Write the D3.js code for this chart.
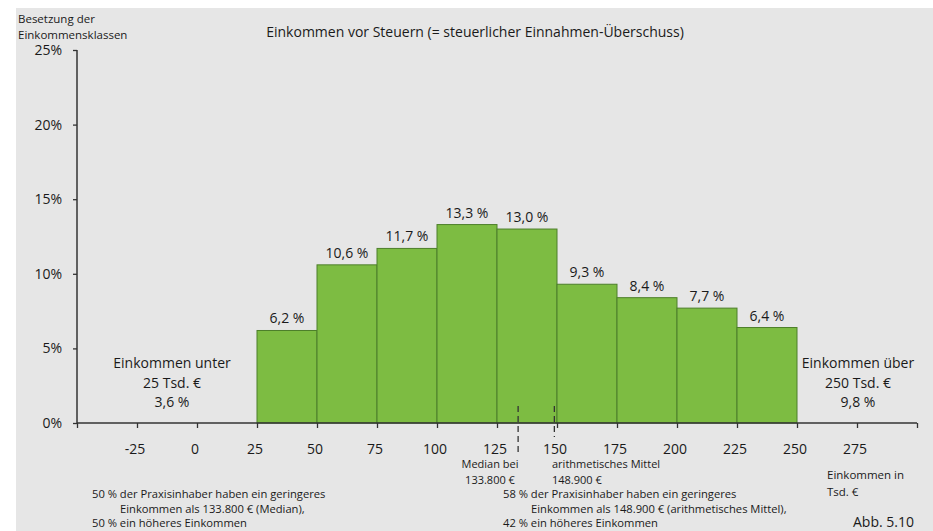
<!DOCTYPE html>
<html>
<head>
<meta charset="utf-8">
<script src="https://cdn.jsdelivr.net/npm/d3@7"></script>
<style>
  html, body { margin: 0; padding: 0; background: #fff; }
  svg text { font-family: "Open Sans", "Noto Sans", sans-serif; fill: #1a1a1a; }
</style>
</head>
<body>
<script>
// income classes (Tsd. €), lower bound of each 25k bin
var binStarts = [25, 50, 75, 100, 125, 150, 175, 200, 225];
var binShares = [6.2, 10.6, 11.7, 13.3, 13.0, 9.3, 8.4, 7.7, 6.4];
var binLabels = ["6,2 %", "10,6 %", "11,7 %", "13,3 %", "13,0 %", "9,3 %", "8,4 %", "7,7 %", "6,4 %"];
var xTicks = [-25, 0, 25, 50, 75, 100, 125, 150, 175, 200, 225, 250, 275];
var yTicks = [0, 5, 10, 15, 20, 25];
var medianValue = 133.8;
var meanValue = 148.9;

var width = 933, height = 531;

var svg = d3.select("body").append("svg")
    .attr("width", width)
    .attr("height", height);

svg.append("rect")
    .attr("x", 16).attr("y", 8)
    .attr("width", width - 16).attr("height", height - 8)
    .attr("fill", "#e6e6e6");

var x = d3.scaleLinear().domain([-50, 300]).range([77, 917]);
var y = d3.scaleLinear().domain([0, 25]).range([423, 50]);

// bars
svg.selectAll(".bar")
    .data(binStarts)
    .enter().append("rect")
    .attr("class", "bar")
    .attr("x", function(d) { return x(d); })
    .attr("width", function(d) { return x(d + 25) - x(d); })
    .attr("y", function(d, i) { return y(binShares[i]); })
    .attr("height", function(d, i) { return y(0) - y(binShares[i]); })
    .attr("fill", "#7dbc42")
    .attr("stroke", "#4d7f2a")
    .attr("stroke-width", 1);

svg.selectAll(".barlabel")
    .data(binStarts)
    .enter().append("text")
    .attr("class", "barlabel")
    .attr("x", function(d) { return x(d + 12.5); })
    .attr("y", function(d, i) { return y(binShares[i]) - 7; })
    .attr("text-anchor", "middle")
    .style("font-size", "14px")
    .text(function(d, i) { return binLabels[i]; });

// axes
var xAxis = d3.axisBottom(x).tickValues(xTicks.concat([-50, 300])).tickSize(5).tickFormat("");
var gx = svg.append("g")
    .attr("transform", "translate(0," + y(0) + ")")
    .call(xAxis);
gx.select(".domain").attr("stroke", "#333").attr("stroke-width", 1.5).attr("d", "M" + x(-50) + ",0H" + x(300));
gx.selectAll(".tick line").attr("stroke", "#333").attr("stroke-width", 1.3);

svg.selectAll(".xlabel")
    .data(xTicks)
    .enter().append("text")
    .attr("class", "xlabel")
    .attr("x", function(d) { return x(d) - 2; })
    .attr("y", 454)
    .attr("text-anchor", "middle")
    .style("font-size", "14px")
    .text(function(d) { return d; });

var yAxis = d3.axisLeft(y).tickValues(yTicks).tickSize(4).tickFormat("");
var gy = svg.append("g")
    .attr("transform", "translate(" + x(-50) + ",0)")
    .call(yAxis);
gy.select(".domain").attr("stroke", "#333").attr("stroke-width", 1.5).attr("d", "M0," + y(25) + "V" + y(0));
gy.selectAll(".tick line").attr("stroke", "#333").attr("stroke-width", 1.3);

svg.selectAll(".ylabel")
    .data(yTicks)
    .enter().append("text")
    .attr("class", "ylabel")
    .attr("x", 62)
    .attr("y", function(d) { return y(d) + 5; })
    .attr("text-anchor", "end")
    .style("font-size", "14px")
    .text(function(d) { return d + "%"; });

// median / mean markers
[[medianValue, 452], [meanValue, 437]].forEach(function(m) {
    svg.append("line")
        .attr("x1", x(m[0])).attr("x2", x(m[0]))
        .attr("y1", 406).attr("y2", m[1])
        .attr("stroke", "#333")
        .attr("stroke-width", 1.3)
        .attr("stroke-dasharray", "6,4");
});

function textLines(lines, xPos, y0, dy, size, anchor) {
    lines.forEach(function(t, i) {
        svg.append("text")
            .attr("x", Array.isArray(xPos) ? xPos[i] : xPos)
            .attr("y", y0 + i * dy)
            .attr("text-anchor", anchor || "start")
            .style("font-size", size + "px")
            .text(t);
    });
}

// title and axis captions
textLines(["Einkommen vor Steuern (= steuerlicher Einnahmen-Überschuss)"], 475, 37, 0, 14, "middle");
textLines(["Besetzung der", "Einkommensklassen"], 18, 23, 16, 11.5);
textLines(["Einkommen in", "Tsd. €"], 827, 479, 17, 11.5);
textLines(["Abb. 5.10"], 853, 527, 0, 14);

// open class annotations
textLines(["Einkommen unter", "25 Tsd. €", "3,6 %"], 172, 368, 19.5, 14, "middle");
textLines(["Einkommen über", "250 Tsd. €", "9,8 %"], 858, 368, 19.5, 14, "middle");

// median / mean captions
textLines(["Median bei", "133.800 €"], 490, 468, 15.5, 11, "middle");
textLines(["arithmetisches Mittel", "148.900 €"], 552, 468, 15.5, 11);

textLines(["50 % der Praxisinhaber haben ein geringeres", "Einkommen als 133.800 € (Median),", "50 % ein höheres Einkommen"],
    [92, 120, 92], 498, 14.5, 11.2);
textLines(["58 % der Praxisinhaber haben ein geringeres", "Einkommen als 148.900 € (arithmetisches Mittel),", "42 % ein höheres Einkommen"],
    [503, 531, 503], 498, 14.5, 11.2);
</script>
</body>
</html>
